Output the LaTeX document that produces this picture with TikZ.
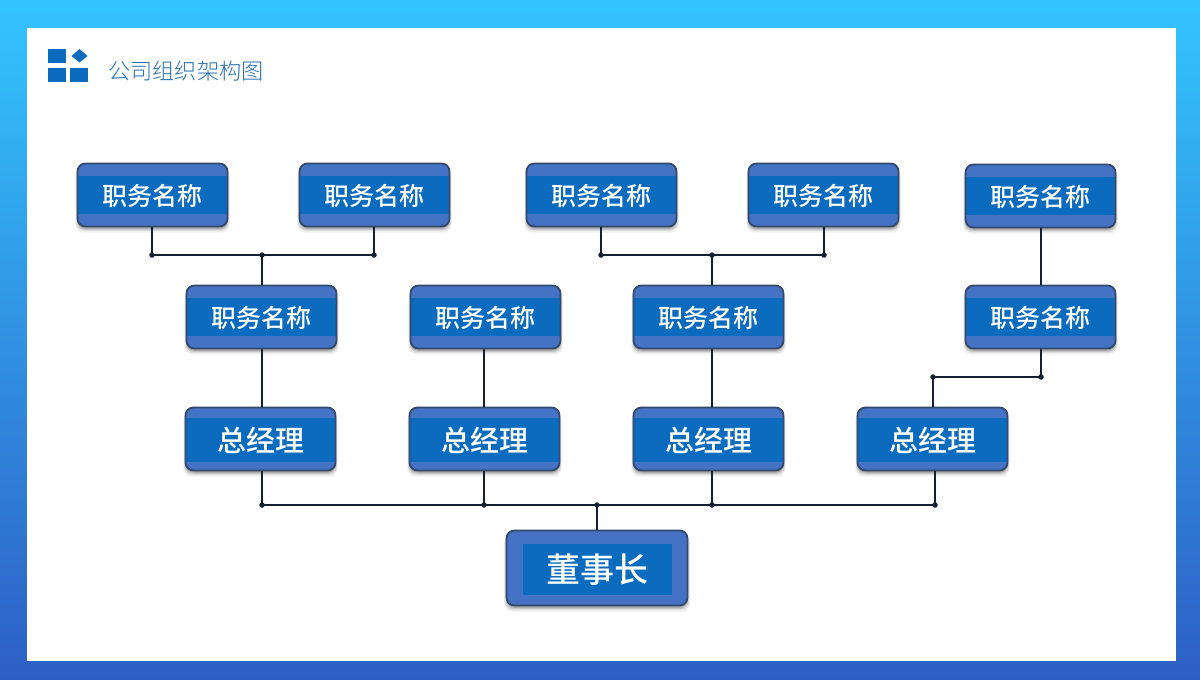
\documentclass[tikz,border=0pt]{standalone}
\usepackage{fontspec}
\usetikzlibrary{shadows}
\newfontfamily\cjk{Noto Sans CJK SC Medium}
\newfontfamily\cjklight{Noto Sans CJK SC Light}
\definecolor{skytop}{HTML}{33C4FF}
\definecolor{deepbottom}{HTML}{2E5FC5}
\definecolor{boxouter}{HTML}{4472C4}
\definecolor{boxband}{HTML}{0B6BBF}
\definecolor{boxedge}{HTML}{34496E}
\definecolor{wire}{HTML}{14202F}
\definecolor{titleblue}{HTML}{2A70B4}
% extra reported height pushes a box label below the geometric centre
\newcommand{\lowlabel}[2][2pt]{\raisebox{0pt}[\dimexpr\height+#1\relax][\depth]{#2}}
\tikzset{
  softshade/.style={
    general shadow={shadow xshift=0pt,shadow yshift=-5pt,shadow scale=1.03,fill=black,opacity=.05},
    general shadow={shadow xshift=0pt,shadow yshift=-4pt,shadow scale=1.02,fill=black,opacity=.08},
    general shadow={shadow xshift=0pt,shadow yshift=-3pt,shadow scale=1.01,fill=black,opacity=.12},
    general shadow={shadow xshift=0pt,shadow yshift=-2pt,fill=black,opacity=.16}},
  orgbox/.style={rectangle,rounded corners=8pt,draw=boxedge,line width=1.8pt,fill=boxouter,
    text=white,font=\cjk,inner sep=0pt,softshade},
  bandbox/.style n args={2}{path picture={
    \fill[boxband,sharp corners] ([yshift=-#1]path picture bounding box.north west)
      rectangle ([yshift=#2]path picture bounding box.south east);}},
  staffbox/.style={orgbox,minimum width=150pt,minimum height=63pt,font=\cjk\fontsize{25}{27}\selectfont,bandbox={12pt}{12.5pt}},
  managerbox/.style={orgbox,minimum width=150pt,minimum height=63pt,font=\cjk\fontsize{29}{31}\selectfont,bandbox={10pt}{9pt}},
  chairbox/.style={orgbox,minimum width=181pt,minimum height=75pt,font=\cjk\fontsize{34}{36}\selectfont,
    path picture={\fill[boxband,sharp corners] ([xshift=16pt,yshift=-13pt]path picture bounding box.north west)
      rectangle ([xshift=-16pt,yshift=11pt]path picture bounding box.south east);}},
  wireline/.style={draw=wire,line width=1.6pt},
  joint/.style={circle,fill=wire,inner sep=0pt,minimum size=5.5pt},
  logopart/.style={fill=boxband,draw=none}
}
\begin{document}
\begin{tikzpicture}[x=1pt,y=-1pt]
\useasboundingbox (0,0) rectangle (1200,680);
% page background and white panel
\shade[top color=skytop,bottom color=deepbottom] (0,0) rectangle (1200,680);
\fill[white] (27,28) rectangle (1176,661);
% heading mark and title
\fill[logopart] (48,49) rectangle (66,63);
\fill[logopart] (71.5,56) -- (79.5,49) -- (87.5,56) -- (79.5,62.5) -- cycle;
\fill[logopart] (48,68) rectangle (66,82);
\fill[logopart] (70,68) rectangle (88,82);
\node[name=title,anchor=west,inner sep=0pt,text=titleblue,font=\cjklight\fontsize{22.2}{24}\selectfont] at (108,71.5) {公司组织架构图};
% junction points
\coordinate (j1) at (262,255);
\coordinate (j1l) at (152,255);
\coordinate (j1r) at (374,255);
\coordinate (j2) at (712,255);
\coordinate (j2l) at (601,255);
\coordinate (j2r) at (824,255);
\coordinate (j3l) at (933,377);
\coordinate (j3r) at (1041,377);
\coordinate (s1) at (262,505);
\coordinate (s2) at (484,505);
\coordinate (s3) at (597,505);
\coordinate (s4) at (712,505);
\coordinate (s5) at (935,505);
% boxes, top row
\node[staffbox] (a1) at (152.5,195) {\lowlabel{职务名称}};
\node[staffbox] (a2) at (374.5,195) {\lowlabel{职务名称}};
\node[staffbox] (a3) at (601.5,195) {\lowlabel{职务名称}};
\node[staffbox] (a4) at (823.5,195) {\lowlabel{职务名称}};
\node[staffbox] (a5) at (1040.5,196) {\lowlabel{职务名称}};
% boxes, second row
\node[staffbox] (b1) at (261.5,317) {\lowlabel{职务名称}};
\node[staffbox] (b2) at (485.5,317) {\lowlabel{职务名称}};
\node[staffbox] (b3) at (708.5,317) {\lowlabel{职务名称}};
\node[staffbox] (b4) at (1040.5,317) {\lowlabel{职务名称}};
% managers
\node[managerbox] (c1) at (260.5,439) {\lowlabel{总经理}};
\node[managerbox] (c2) at (484.5,439) {\lowlabel{总经理}};
\node[managerbox] (c3) at (708.5,439) {\lowlabel{总经理}};
\node[managerbox] (c4) at (932.5,439) {\lowlabel{总经理}};
% chairman
\node[chairbox] (d) at (597,568) {\lowlabel[4pt]{董事长}};
% wires between the boxes
\draw[wireline] (j1l |- a1.south) -- (j1l) -- (j1r) -- (j1r |- a2.south);
\draw[wireline] (j1) -- (j1 |- b1.north);
\draw[wireline] (j2l |- a3.south) -- (j2l) -- (j2r) -- (j2r |- a4.south);
\draw[wireline] (j2) -- (j2 |- b3.north);
\draw[wireline] (j3r |- a5.south) -- (j3r |- b4.north);
\draw[wireline] (j3r |- b4.south) -- (j3r) -- (j3l) -- (j3l |- c4.north);
\draw[wireline] (j1 |- b1.south) -- (j1 |- c1.north);
\draw[wireline] (s2 |- b2.south) -- (s2 |- c2.north);
\draw[wireline] (j2 |- b3.south) -- (j2 |- c3.north);
\draw[wireline] (s1 |- c1.south) -- (s1) -- (s5) -- (s5 |- c4.south);
\draw[wireline] (s2 |- c2.south) -- (s2);
\draw[wireline] (s4 |- c3.south) -- (s4);
\draw[wireline] (s3) -- (d.north);
% junction dots
\foreach \p in {j1,j1l,j1r,j2,j2l,j2r,j3l,j3r,s1,s2,s3,s4,s5}
  \node[joint] at (\p) {};
\end{tikzpicture}
\end{document}
